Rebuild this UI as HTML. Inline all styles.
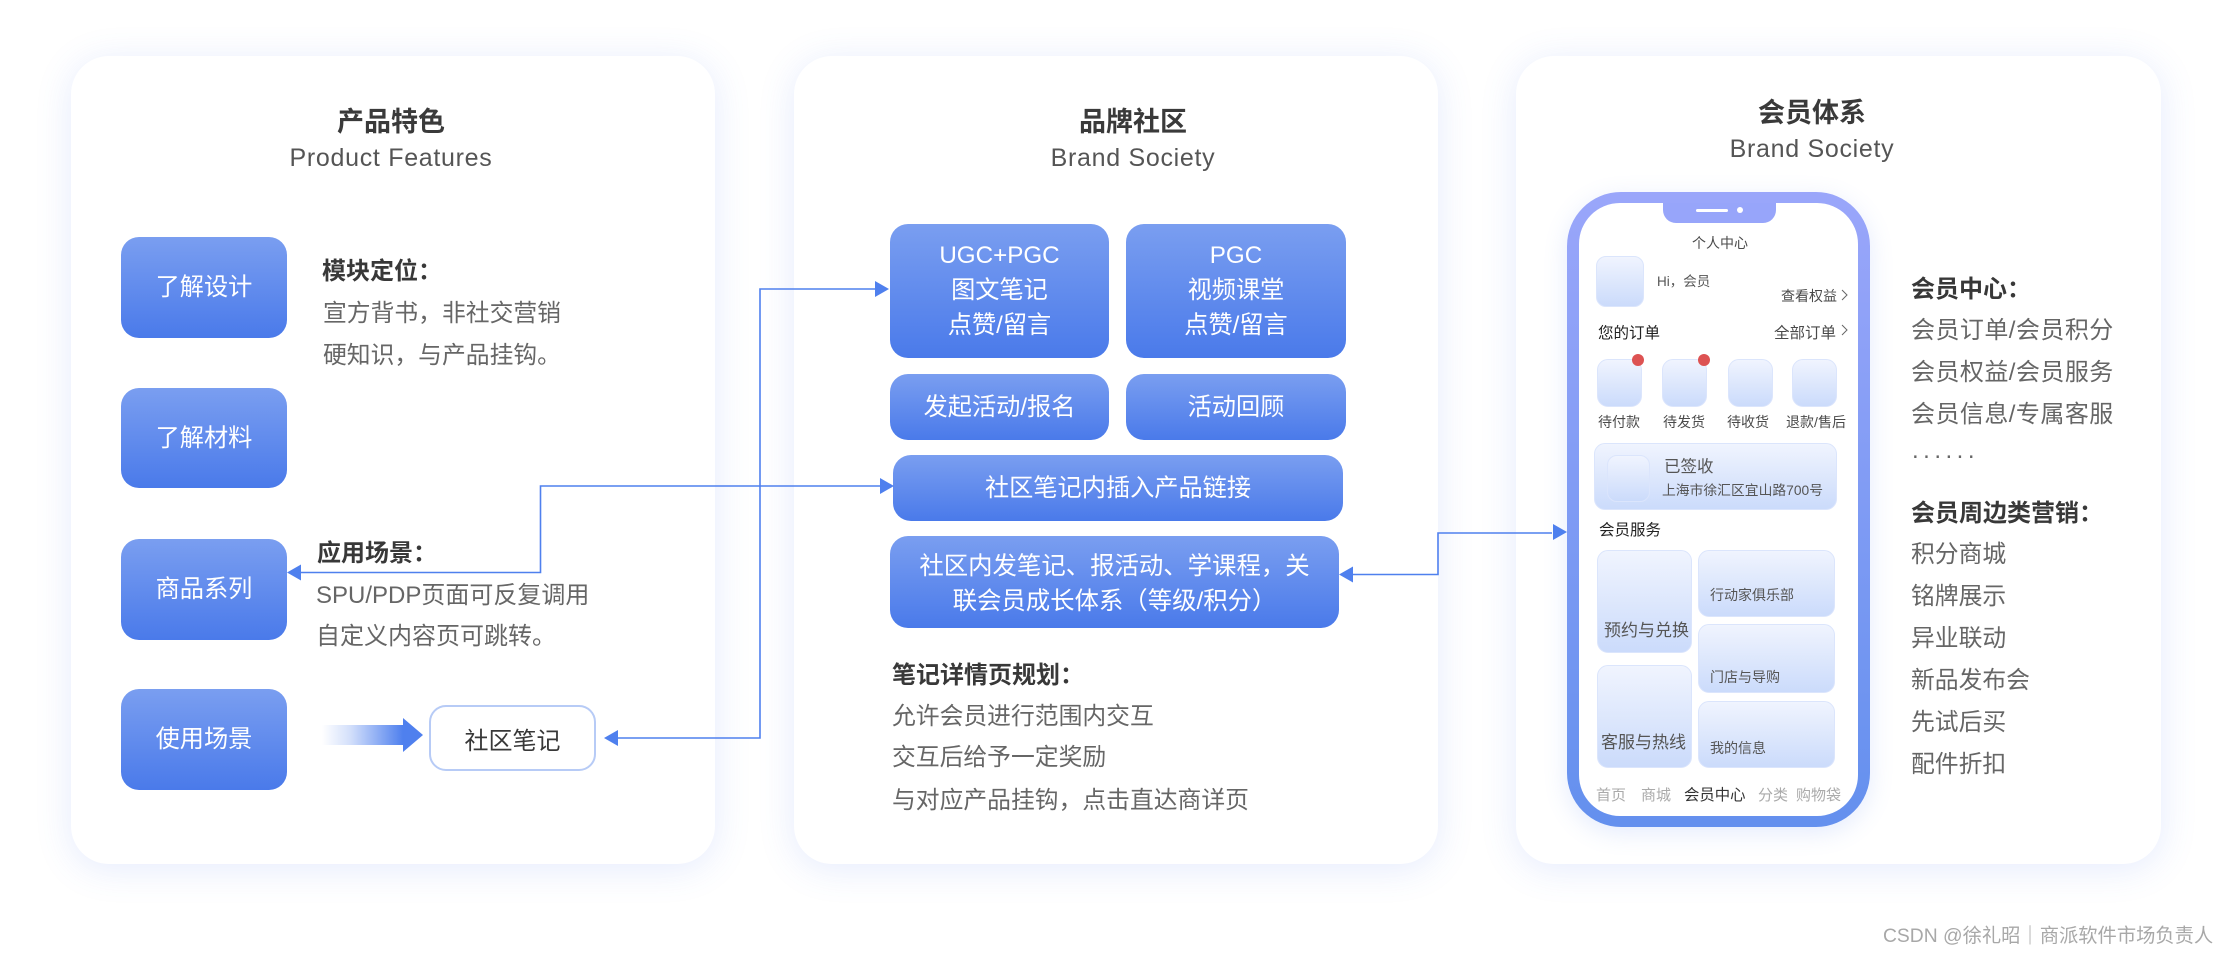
<!DOCTYPE html>
<html lang="zh-CN"><head><meta charset="utf-8"><title>Diagram</title>
<style>
html,body{margin:0;padding:0;background:#fff}
#c{position:relative;width:2230px;height:956px;overflow:hidden;background:#fff;font-family:"Liberation Sans","Noto Sans CJK SC",sans-serif;color:#666}
#c div{position:absolute;box-sizing:border-box}
.p{background:#fff;border-radius:38px;top:56px;height:808px;width:644px;box-shadow:0 5px 36px rgba(80,120,240,.15)}
.b{background:linear-gradient(#7a9ef0,#4a7aea);border-radius:18px;color:#fff;font-size:24.2px;text-align:center;display:flex;align-items:center;justify-content:center;line-height:35px}
.t{white-space:nowrap;line-height:1}
.h{font-size:27px;font-weight:700;color:#3a3a3a;transform:translateX(-50%)}
.s{font-size:25px;color:#555;transform:translateX(-50%);letter-spacing:.7px}
.d{font-size:24px;color:#666}
.d2{font-size:23.8px;color:#666}
.k{font-size:24px;font-weight:700;color:#383838;margin-top:1px}
.g{background:linear-gradient(#f0f4fe,#cbdbfb);border:1.5px solid #dbe5fc}
.m{color:#4a4a4a}
.c{transform:translateX(-50%)}
</style></head><body><div id="c">
<div class="p" style="left:71px"></div>
<div class="p" style="left:794px"></div>
<div class="p" style="left:1516px;width:645px"></div>

<div class="t h" style="left:391px;top:109px">产品特色</div>
<div class="t s" style="left:391px;top:146px">Product Features</div>
<div class="t h" style="left:1133px;top:109px">品牌社区</div>
<div class="t s" style="left:1133px;top:146px">Brand Society</div>
<div class="t h" style="left:1812px;top:100px">会员体系</div>
<div class="t s" style="left:1812px;top:137px">Brand Society</div>

<div class="b" style="left:121px;top:237px;width:166px;height:101px">了解设计</div>
<div class="b" style="left:121px;top:388px;width:166px;height:100px">了解材料</div>
<div class="b" style="left:121px;top:539px;width:166px;height:101px">商品系列</div>
<div class="b" style="left:121px;top:689px;width:166px;height:101px">使用场景</div>

<div class="t k" style="left:322px;top:259px">模块定位：</div>
<div class="t d2" style="left:323px;top:302px">宣方背书，非社交营销</div>
<div class="t d2" style="left:323px;top:344px">硬知识，与产品挂钩。</div>
<div class="t k" style="left:317px;top:541px">应用场景：</div>
<div class="t d" style="left:316px;top:584px">SPU/PDP页面可反复调用</div>
<div class="t d" style="left:316px;top:625px">自定义内容页可跳转。</div>

<div style="left:429px;top:705px;width:167px;height:66px;border:2px solid #b7cbf6;border-radius:17px;background:#fff;color:#383838;font-size:24px;display:flex;align-items:center;justify-content:center">社区笔记</div>

<div class="b" style="left:890px;top:224px;width:219px;height:134px;padding-bottom:2px">UGC+PGC<br>图文笔记<br>点赞/留言</div>
<div class="b" style="left:1126px;top:224px;width:220px;height:134px;padding-bottom:2px">PGC<br>视频课堂<br>点赞/留言</div>
<div class="b" style="left:890px;top:374px;width:219px;height:66px">发起活动/报名</div>
<div class="b" style="left:1126px;top:374px;width:220px;height:66px">活动回顾</div>
<div class="b" style="left:893px;top:455px;width:450px;height:66px">社区笔记内插入产品链接</div>
<div class="b" style="left:890px;top:536px;width:449px;height:92px;padding-top:3px;font-size:24.4px">社区内发笔记、报活动、学课程，关<br>联会员成长体系（等级/积分）</div>

<div class="t k" style="left:892px;top:663px">笔记详情页规划：</div>
<div class="t d2" style="left:892px;top:705px">允许会员进行范围内交互</div>
<div class="t d2" style="left:892px;top:746px">交互后给予一定奖励</div>
<div class="t d2" style="left:892px;top:789px">与对应产品挂钩，点击直达商详页</div>

<svg style="position:absolute;left:0;top:0" width="2230" height="956" fill="none">
<defs><linearGradient id="ga" x1="0" x2="1" y1="0" y2="0"><stop offset="0" stop-color="#4f80ee" stop-opacity="0"/><stop offset=".35" stop-color="#4f80ee" stop-opacity=".25"/><stop offset="1" stop-color="#4f80ee"/></linearGradient></defs>
<g stroke="#4f80ee" stroke-width="1.6">
<path d="M300 572.5H540.5V486H880"/>
<path d="M618 738H760V289H875"/>
<path d="M1353 574.5H1438V533H1552"/>
</g>
<g fill="#4f80ee">
<path d="M287 572.5L301 564.5V580.5Z"/>
<path d="M604 738L618 730V746Z"/>
<path d="M894 486L880 478V494Z"/>
<path d="M889 289L875 281V297Z"/>
<path d="M1339 574.5L1353 566.5V582.5Z"/>
<path d="M1567 532L1553 524V540Z"/>
<path d="M403 718L423 735L403 752Z"/>
</g>
<rect x="322" y="725" width="81" height="20" fill="url(#ga)"/>
</svg>

<!-- phone -->
<div style="left:1567px;top:192px;width:303px;height:635px;border-radius:54px;background:linear-gradient(#9aa6fa,#6490ee);box-shadow:0 6px 24px rgba(90,130,240,.16)"></div>
<div style="left:1579px;top:203px;width:279px;height:613px;border-radius:41px;background:#fff"></div>
<div style="left:1663px;top:203px;width:113px;height:20px;background:#97a5fa;border-radius:0 0 13px 13px"></div>
<div style="left:1696px;top:209px;width:32px;height:3px;background:#fff;border-radius:2px"></div>
<div style="left:1737px;top:207px;width:6px;height:6px;background:#fff;border-radius:50%"></div>

<div class="t m c" style="left:1720px;top:236px;font-size:14px">个人中心</div>
<div class="g" style="left:1596px;top:256px;width:48px;height:51px;border-radius:10px"></div>
<div class="t" style="left:1657px;top:275px;font-size:13.5px;color:#555">Hi，会员</div>
<div class="t m" style="left:1781px;top:289px;font-size:14px">查看权益</div>
<div class="t" style="left:1598px;top:326px;font-size:15.5px;color:#222">您的订单</div>
<div class="t m" style="left:1774px;top:326px;font-size:15.5px">全部订单</div>
<svg style="position:absolute;left:1840px;top:286px" width="10" height="54" fill="none" stroke="#666" stroke-width="1"><path d="M2 4L7 9L2 14"/><path d="M2 39L7 44L2 49"/></svg>

<div class="g" style="left:1597px;top:359px;width:45px;height:48px;border-radius:11px"></div>
<div class="g" style="left:1662px;top:359px;width:45px;height:48px;border-radius:11px"></div>
<div class="g" style="left:1728px;top:359px;width:45px;height:48px;border-radius:11px"></div>
<div class="g" style="left:1792px;top:359px;width:45px;height:48px;border-radius:11px"></div>
<div style="left:1632px;top:354px;width:12px;height:12px;border-radius:50%;background:#dd5252"></div>
<div style="left:1698px;top:354px;width:12px;height:12px;border-radius:50%;background:#dd5252"></div>
<div class="t m c" style="left:1619px;top:415px;font-size:14px">待付款</div>
<div class="t m c" style="left:1684px;top:415px;font-size:14px">待发货</div>
<div class="t m c" style="left:1748px;top:415px;font-size:14px">待收货</div>
<div class="t m c" style="left:1816px;top:415px;font-size:14px">退款/售后</div>

<div class="g" style="left:1594px;top:443px;width:243px;height:67px;border-radius:11px"></div>
<div class="g" style="left:1607px;top:455px;width:43px;height:47px;border-radius:10px"></div>
<div class="t" style="left:1664px;top:459px;font-size:16.5px;color:#555">已签收</div>
<div class="t" style="left:1662px;top:484px;font-size:13.8px;color:#555">上海市徐汇区宜山路700号</div>
<div class="t" style="left:1599px;top:523px;font-size:15.5px;color:#222">会员服务</div>

<div class="g" style="left:1597px;top:550px;width:95px;height:103px;border-radius:11px"></div>
<div class="g" style="left:1597px;top:665px;width:95px;height:103px;border-radius:11px"></div>
<div class="g" style="left:1698px;top:550px;width:137px;height:67px;border-radius:11px"></div>
<div class="g" style="left:1698px;top:624px;width:137px;height:69px;border-radius:11px"></div>
<div class="g" style="left:1698px;top:701px;width:137px;height:67px;border-radius:11px"></div>
<div class="t" style="left:1604px;top:622px;font-size:17px;color:#555">预约与兑换</div>
<div class="t" style="left:1601px;top:734px;font-size:17px;color:#555">客服与热线</div>
<div class="t" style="left:1710px;top:588px;font-size:14px;color:#555">行动家俱乐部</div>
<div class="t" style="left:1710px;top:670px;font-size:14px;color:#555">门店与导购</div>
<div class="t" style="left:1710px;top:741px;font-size:14px;color:#555">我的信息</div>

<div class="t" style="left:1596px;top:788px;font-size:15px;color:#aaa">首页</div>
<div class="t" style="left:1641px;top:788px;font-size:15px;color:#aaa">商城</div>
<div class="t" style="left:1684px;top:788px;font-size:15.4px;color:#333">会员中心</div>
<div class="t" style="left:1758px;top:788px;font-size:15px;color:#aaa">分类</div>
<div class="t" style="left:1796px;top:788px;font-size:15px;color:#aaa">购物袋</div>

<div class="t k" style="left:1911px;top:277px">会员中心：</div>
<div class="t d" style="left:1911px;top:319px;letter-spacing:.45px">会员订单/会员积分</div>
<div class="t d" style="left:1911px;top:361px;letter-spacing:.45px">会员权益/会员服务</div>
<div class="t d" style="left:1911px;top:403px;letter-spacing:.45px">会员信息/专属客服</div>
<div class="t d" style="left:1912px;top:439px;letter-spacing:4.5px">......</div>
<div class="t k" style="left:1911px;top:501px">会员周边类营销：</div>
<div class="t d2" style="left:1911px;top:543px">积分商城</div>
<div class="t d2" style="left:1911px;top:585px">铭牌展示</div>
<div class="t d2" style="left:1911px;top:627px">异业联动</div>
<div class="t d2" style="left:1911px;top:669px">新品发布会</div>
<div class="t d2" style="left:1911px;top:711px">先试后买</div>
<div class="t d2" style="left:1911px;top:753px">配件折扣</div>

<div class="t" style="left:1883px;top:927px;font-size:19.3px;color:#a8a8a8">CSDN @徐礼昭｜商派软件市场负责人</div>
</div></body></html>
